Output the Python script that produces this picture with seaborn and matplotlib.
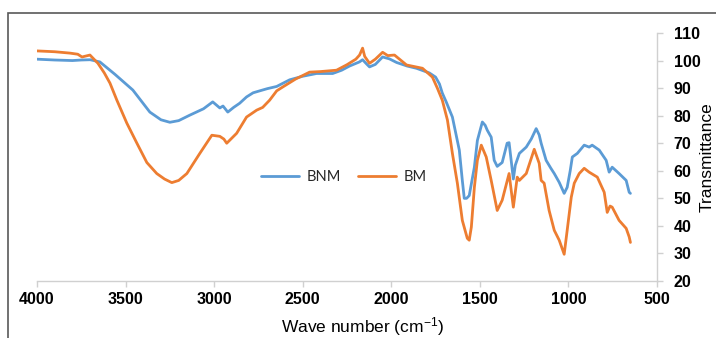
import numpy as np
import pandas as pd
import matplotlib
matplotlib.use("Agg")
import matplotlib.pyplot as plt
import seaborn as sns

# ---- data ----
bnm_wn = [4000, 3900, 3800, 3750, 3700, 3645, 3560, 3459, 3363, 3300, 3250, 3200, 3137,
          3060, 3008, 2968, 2950, 2923, 2890, 2856, 2817, 2780, 2743, 2700, 2647, 2574,
          2500, 2422, 2331, 2280, 2236, 2180, 2162, 2140, 2123, 2090, 2049, 2010, 1970,
          1910, 1858, 1785, 1750, 1728, 1712, 1690, 1655, 1616, 1599, 1588, 1575, 1560,
          1531, 1514, 1486, 1470, 1458, 1436, 1419, 1402, 1374, 1346, 1335, 1320, 1311,
          1300, 1277, 1238, 1210, 1182, 1165, 1154, 1126, 1100, 1080, 1052, 1024, 1007,
          990, 978, 950, 911, 883, 866, 826, 787, 770, 753, 714, 674, 657, 650]
bnm_val = [100.5, 100.2, 100.0, 100.2, 100.3, 99.5, 95.0, 89.3, 81.3, 78.5, 77.6, 78.2, 80.2,
           82.5, 85.0, 82.8, 83.5, 81.3, 83.0, 84.5, 86.8, 88.3, 89.0, 89.8, 90.6, 93.0,
           94.3, 95.3, 95.3, 96.5, 98.0, 99.5, 100.3, 98.8, 97.7, 98.6, 101.3, 100.6, 99.3,
           98.0, 97.2, 95.5, 94.0, 91.5, 88.2, 85.0, 79.5, 67.5, 56.5, 50.0, 50.0, 51.0,
           61.3, 71.0, 77.7, 76.5, 74.7, 72.2, 63.8, 61.6, 63.0, 70.0, 70.2, 62.0, 57.0,
           62.0, 66.3, 68.6, 71.5, 75.3, 73.0, 70.0, 63.8, 61.0, 59.0, 55.8, 51.8, 54.0,
           60.0, 65.0, 66.3, 69.3, 68.6, 69.3, 67.5, 63.8, 59.5, 61.3, 59.0, 56.5, 52.2, 51.8]

bm_wn = [4000, 3900, 3814, 3770, 3746, 3701, 3656, 3620, 3588, 3549, 3493, 3436, 3380,
         3324, 3280, 3239, 3200, 3154, 3081, 3013, 2968, 2945, 2929, 2873, 2817, 2760,
         2726, 2687, 2647, 2613, 2540, 2461, 2400, 2309, 2250, 2200, 2179, 2162, 2150,
         2123, 2090, 2049, 2020, 1982, 1914, 1824, 1768, 1740, 1712, 1683, 1655, 1627,
         1599, 1571, 1560, 1548, 1531, 1514, 1492, 1464, 1436, 1402, 1374, 1335, 1311,
         1289, 1277, 1238, 1193, 1165, 1154, 1137, 1109, 1080, 1052, 1024, 1007, 984,
         967, 939, 911, 883, 837, 798, 781, 765, 753, 714, 674, 657, 650]
bm_val = [103.5, 103.2, 102.7, 102.3, 101.3, 102.0, 99.0, 95.5, 91.8, 85.6, 77.3, 70.0, 63.0,
          59.0, 57.0, 55.7, 56.5, 59.0, 66.3, 72.9, 72.5, 71.5, 70.0, 73.6, 79.5, 82.0,
          83.0, 85.6, 89.0, 90.4, 93.3, 95.8, 96.0, 96.5, 98.5, 100.5, 102.0, 104.5, 101.5,
          99.0, 100.5, 103.0, 101.8, 102.0, 98.4, 97.2, 94.0, 90.0, 85.6, 78.4, 66.3, 55.5,
          42.0, 35.5, 34.8, 39.6, 54.0, 63.8, 69.3, 65.0, 56.5, 45.6, 49.3, 59.0, 46.8,
          57.7, 56.5, 59.0, 67.8, 62.7, 56.5, 55.5, 45.6, 38.4, 34.8, 29.7, 38.4, 50.4,
          55.5, 59.0, 60.9, 59.5, 57.7, 52.2, 44.9, 47.2, 46.8, 42.0, 39.1, 36.0, 34.0]

series_names = ["BNM", "BM"]
x_ticks = [4000, 3500, 3000, 2500, 2000, 1500, 1000, 500]
y_ticks = [20, 30, 40, 50, 60, 70, 80, 90, 100, 110]

df = pd.concat([
    pd.DataFrame({"wn": bnm_wn, "T": bnm_val, "sample": series_names[0]}),
    pd.DataFrame({"wn": bm_wn, "T": bm_val, "sample": series_names[1]}),
])

sns.set_theme(style="white")
plt.rcParams["font.family"] = ["Liberation Sans", "DejaVu Sans"]
plt.rcParams["mathtext.fontset"] = "custom"
plt.rcParams["mathtext.rm"] = "Liberation Sans"
plt.rcParams["mathtext.it"] = "Liberation Sans:italic"
plt.rcParams["mathtext.bf"] = "Liberation Sans:bold"
plt.rcParams["mathtext.default"] = "rm"

W, H = 716, 338
fig = plt.figure(figsize=(W / 100, H / 100), dpi=100)
ax = fig.add_axes([37 / W, 1 - 281 / H, 620 / W, 248 / H])

sns.lineplot(data=df, x="wn", y="T", hue="sample", estimator=None, sort=False,
             palette={"BNM": "#5B9BD5", "BM": "#ED7D31"}, linewidth=2.0, ax=ax,
             legend=True)

ax.set_xlim(4000, 500)
ax.set_ylim(20, 110)
ax.set_xticks(x_ticks)
ax.set_yticks(y_ticks)
ax.yaxis.tick_right()
ax.yaxis.set_label_position("right")
for s in ["top", "left"]:
    ax.spines[s].set_visible(False)
for s in ["bottom", "right"]:
    ax.spines[s].set_color("#d0d0d0")
    ax.spines[s].set_linewidth(1.0)
ax.tick_params(axis="both", direction="out", length=4, width=1.0, color="#d0d0d0",
               labelsize=11.5, labelcolor="black")
ax.tick_params(axis="x", bottom=True, pad=4)
ax.tick_params(axis="y", right=True, left=False, pad=8)
for lab in ax.get_xticklabels() + ax.get_yticklabels():
    lab.set_fontweight("bold")

ax.set_xlabel("Wave number (cm$^{-1}$)", fontsize=12.5, color="black")
ax.set_ylabel("Transmittance", fontsize=12.5, color="black")
ax.xaxis.label.set_va("center")
ax.yaxis.label.set_va("center")
ax.xaxis.set_label_coords((363 - 37) / 620, -(327 - 281) / 248)
ax.yaxis.set_label_coords((707 - 37) / 620, 0.5)

leg = ax.legend(loc="center left", bbox_to_anchor=(248 / W, 1 - 177 / H),
                bbox_transform=fig.transFigure, ncol=2, frameon=False,
                handlelength=2.6, columnspacing=1.2, handletextpad=0.5,
                prop={"family": "Lato", "size": 10.5})
for t in leg.get_texts():
    t.set_color("#262626")

# outer chart-area border (cropped on right and bottom)
fig.patches.append(plt.Rectangle((8 / W, -0.1), 1.0, 1 - 13 / H + 0.1,
                                 transform=fig.transFigure, fill=False,
                                 edgecolor="#595959", linewidth=1.2))

fig.savefig("out.png", dpi=100)
